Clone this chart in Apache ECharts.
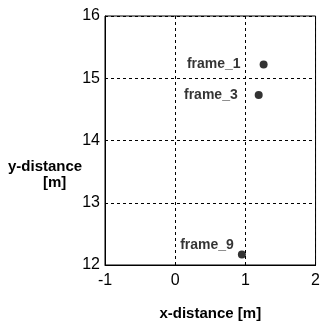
<!DOCTYPE html>
<html><head><meta charset="utf-8">
<script src="https://cdn.jsdelivr.net/npm/echarts@6/dist/echarts.min.js"></script>
<style>html,body{margin:0;padding:0;background:#fff}#c{width:323px;height:326px}</style>
</head><body><div id="c"></div>
<script>
const names = ['frame_1', 'frame_3', 'frame_9'];
const xValues = [1.26, 1.19, 0.95];
const yValues = [15.22, 14.73, 12.17];
const xTicks = [-1, 0, 1, 2];
const yTicks = [12, 13, 14, 15, 16];
const labelPos = [[-14, 0], [-12, 0], [1, -9]];

const chart = echarts.init(document.getElementById('c'));
const font = 'Liberation Sans, Arial, sans-serif';
chart.setOption({
  animation: false,
  grid: {left: 105, right: 6, top: 16, bottom: 52, show: true, borderColor: '#000', borderWidth: 1},
  xAxis: {
    type: 'value', min: xTicks[0], max: xTicks[xTicks.length-1], interval: 1,
    name: 'x-distance [m]', nameLocation: 'middle', nameGap: 41,
    nameTextStyle: {fontFamily: font, fontSize: 15, fontWeight: 'bold', color: '#000'},
    axisLine: {onZero: false, lineStyle: {color: '#000'}},
    axisTick: {inside: true, length: 3, lineStyle: {color: '#000'}},
    axisLabel: {fontFamily: font, fontSize: 16, color: '#000', margin: 8},
    splitLine: {show: true, lineStyle: {color: '#000', type: [3, 3], width: 1}}
  },
  yAxis: {
    type: 'value', min: yTicks[0], max: yTicks[yTicks.length-1], interval: 1,
    axisLine: {show: true, onZero: false, lineStyle: {color: '#000'}},
    axisTick: {show: true, inside: true, length: 3, lineStyle: {color: '#000'}},
    axisLabel: {fontFamily: font, fontSize: 16, color: '#000', margin: 5},
    splitLine: {show: true, lineStyle: {color: '#000', type: [3, 3], width: 1}}
  },
  graphic: [
    {type: 'text', left: 8, top: 159, style: {text: 'y-distance', font: 'bold 15px ' + font, fill: '#000'}},
    {type: 'text', left: 43, top: 175, style: {text: '[m]', font: 'bold 15px ' + font, fill: '#000'}}
  ],
  series: [{
    type: 'scatter', symbol: 'circle', symbolSize: 8,
    itemStyle: {color: '#000'},
    data: names.map((n, i) => ({
      name: n, value: [xValues[i], yValues[i]],
      label: {show: true, position: 'left', offset: labelPos[i], formatter: '{b}',
        fontFamily: font, fontSize: 14, fontWeight: 'bold', color: '#000'}
    }))
  }]
});
</script></body></html>
